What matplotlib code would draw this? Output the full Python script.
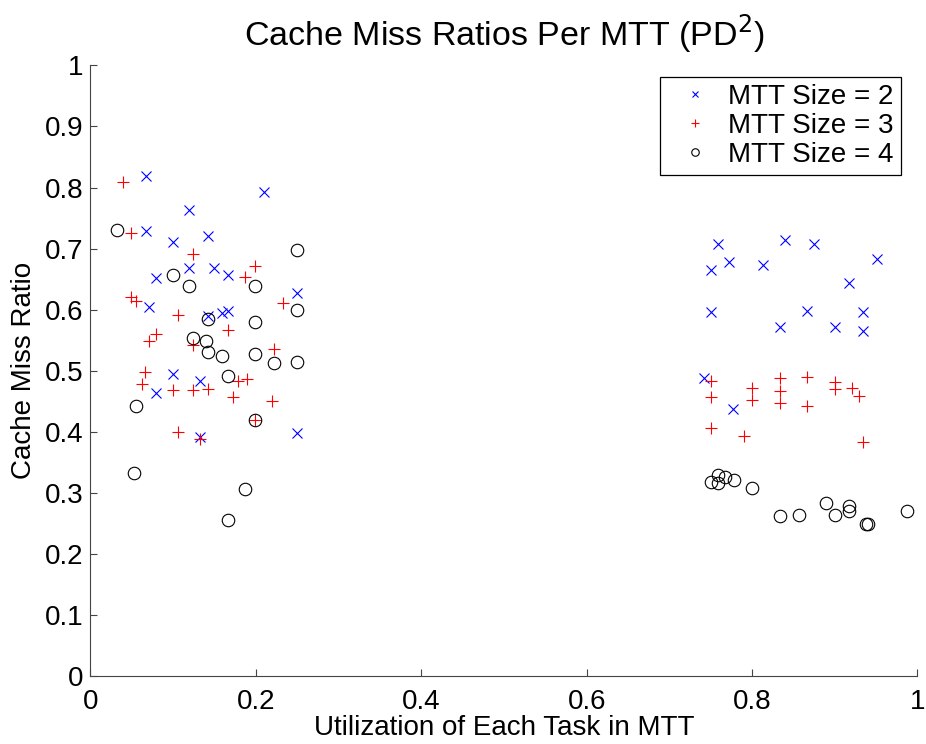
import matplotlib
matplotlib.use("Agg")
import matplotlib.pyplot as plt

plt.rcParams["font.family"] = ["Liberation Sans", "DejaVu Sans"]

# MTT size 2 (utilization, miss ratio)
util_2 = [0.0667, 0.2094, 0.119, 0.0667, 0.0994, 0.142, 0.119, 0.1493, 0.0792,
          0.1663, 0.2493, 0.0711, 0.142, 0.1594, 0.1659, 0.0994, 0.1328, 0.0792,
          0.1328, 0.2493,
          0.759, 0.840, 0.875, 0.772, 0.750, 0.8128, 0.9507, 0.9172, 0.750,
          0.8668, 0.9337, 0.8334, 0.9002, 0.9337, 0.742, 0.777]
miss_2 = [0.819, 0.792, 0.763, 0.729, 0.711, 0.721, 0.669, 0.669, 0.652,
          0.656, 0.627, 0.605, 0.589, 0.594, 0.598, 0.494, 0.484, 0.464,
          0.391, 0.399,
          0.707, 0.714, 0.708, 0.678, 0.665, 0.673, 0.683, 0.643, 0.596,
          0.598, 0.597, 0.571, 0.572, 0.565, 0.488, 0.438]

# MTT size 3
util_3 = [0.0393, 0.0494, 0.1243, 0.1993, 0.1868, 0.0486, 0.0554, 0.2328,
          0.1062, 0.1659, 0.0796, 0.0707, 0.124, 0.2219, 0.0659, 0.0619,
          0.1787, 0.1896, 0.0994, 0.1243, 0.142, 0.1727, 0.2198, 0.1993,
          0.1062, 0.1328,
          0.750, 0.750, 0.750, 0.800, 0.800, 0.8337, 0.8337, 0.8337, 0.8667,
          0.8667, 0.9002, 0.9002, 0.9204, 0.9289, 0.7902, 0.9337]
miss_3 = [0.809, 0.725, 0.691, 0.672, 0.653, 0.621, 0.614, 0.611,
          0.592, 0.566, 0.561, 0.548, 0.543, 0.536, 0.498, 0.478,
          0.484, 0.487, 0.469, 0.469, 0.470, 0.457, 0.450, 0.420,
          0.400, 0.388,
          0.483, 0.457, 0.406, 0.472, 0.453, 0.489, 0.467, 0.447, 0.490,
          0.442, 0.481, 0.470, 0.472, 0.459, 0.394, 0.384]

# MTT size 4
util_4 = [0.0325, 0.2497, 0.0994, 0.1195, 0.1993, 0.2497, 0.142, 0.1993,
          0.124, 0.1397, 0.142, 0.1594, 0.1993, 0.2219, 0.2497, 0.1659,
          0.055, 0.1993, 0.0526, 0.1868, 0.1663,
          0.750, 0.759, 0.759, 0.767, 0.7781, 0.800, 0.8337, 0.857, 0.889,
          0.900, 0.9172, 0.9172, 0.9373, 0.9405, 0.9873]
miss_4 = [0.730, 0.698, 0.657, 0.638, 0.638, 0.600, 0.585, 0.580,
          0.553, 0.549, 0.531, 0.524, 0.527, 0.512, 0.514, 0.492,
          0.442, 0.420, 0.332, 0.306, 0.255,
          0.318, 0.329, 0.316, 0.326, 0.321, 0.309, 0.263, 0.264, 0.284,
          0.264, 0.279, 0.271, 0.249, 0.249, 0.271]

fig = plt.figure(figsize=(9.26, 7.44), dpi=100)
ax = fig.add_axes([0.0977, 0.091, 0.8931, 0.8212])

ax.plot(util_2, miss_2, linestyle="none", marker="x", color="#0000ff",
        markersize=7, markeredgewidth=0.8, label="MTT Size = 2")
ax.plot(util_3, miss_3, linestyle="none", marker="+", color="#ff0000",
        markersize=9, markeredgewidth=0.8, label="MTT Size = 3")
ax.plot(util_4, miss_4, linestyle="none", marker="o", markerfacecolor="none",
        markeredgecolor="black", markersize=9, markeredgewidth=0.8,
        label="MTT Size = 4")

ax.set_xlim(0, 1)
ax.set_ylim(0, 1)
ax.set_xticks([0, 0.2, 0.4, 0.6, 0.8, 1])
ax.set_xticklabels(["0", "0.2", "0.4", "0.6", "0.8", "1"])
ax.set_yticks([i / 10 for i in range(11)])
ax.set_yticklabels(["0"] + [f"{i / 10:g}" for i in range(1, 10)] + ["1"])

for side in ["top", "right"]:
    ax.spines[side].set_visible(False)
for side in ["left", "bottom"]:
    ax.spines[side].set_color("#444444")
    ax.spines[side].set_linewidth(0.8)
ax.tick_params(direction="in", length=5, width=0.8, color="#444444",
               labelsize=20)
ax.tick_params(axis="x", pad=9)
ax.tick_params(axis="y", pad=5)

ax.set_xlabel("Utilization of Each Task in MTT", fontsize=20, labelpad=0)
ax.set_ylabel("Cache Miss Ratio", fontsize=20, labelpad=6)
ax.set_title("Cache Miss Ratios Per MTT (PD$^2$)", fontsize=24.5, pad=14)

leg = ax.legend(loc="upper right", bbox_to_anchor=(0.9797, 0.9805),
                fontsize=20, markerscale=0.6, handlelength=2.0,
                handletextpad=0.2, borderpad=0.25, labelspacing=0.1,
                borderaxespad=0, fancybox=False, framealpha=1)
leg.get_frame().set_edgecolor("black")
leg.get_frame().set_linewidth(0.9)

fig.savefig("out.png", dpi=100)
